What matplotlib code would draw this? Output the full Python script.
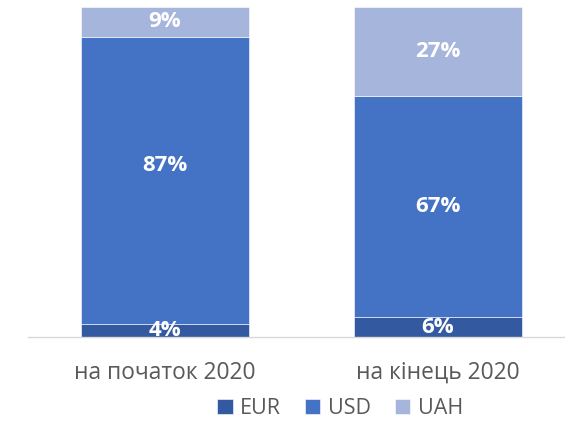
import matplotlib
matplotlib.use('Agg')
from matplotlib import pyplot as plt
import numpy as np

plt.rcParams['font.family'] = ['Open Sans', 'DejaVu Sans']

categories = ['на початок 2020', 'на кінець 2020']
series_names = ['EUR', 'USD', 'UAH']
eur = [4, 6]
usd = [87, 67]
uah = [9, 27]
colors = ['#335AA1', '#4472C4', '#A5B5DB']

fig = plt.figure(figsize=(5.65, 4.21), dpi=100)
ax = fig.add_axes([0.0504, 0.1995, 0.966, 0.784])

x = np.arange(len(categories))
bottom = np.zeros(len(categories))
for name, vals, col in zip(series_names, [eur, usd, uah], colors):
    ax.bar(x, vals, width=0.615, bottom=bottom, color=col, label=name,
           edgecolor='white', linewidth=0.4)
    for xi, b, v in zip(x, bottom, vals):
        ypos = b + v / 2
        if name == 'USD' and xi == 0:
            ypos += 4.5  # label sits a bit higher in the original
        ax.text(xi, ypos, f'{v}%', ha='center', va='center',
                color='white', fontsize=16, fontweight='bold')
    bottom += np.array(vals)

ax.set_xlim(-0.5, 1.5)
ax.set_ylim(0, 100)
ax.set_xticks(x)
ax.set_xticklabels(categories, fontsize=16.4, color='#595959')
ax.tick_params(axis='x', length=0, pad=17)
ax.set_yticks([])
for s in ['top', 'right', 'left']:
    ax.spines[s].set_visible(False)
ax.spines['bottom'].set_color('#D9D9D9')
ax.spines['bottom'].set_linewidth(1)

fig.legend(loc='center', bbox_to_anchor=(0.602, 0.029), ncol=3, frameon=False,
           fontsize=15.5, handlelength=0.7, handleheight=0.7, handletextpad=0.33,
           columnspacing=1.15, labelcolor='#595959')

plt.savefig('out.png', dpi=100)
